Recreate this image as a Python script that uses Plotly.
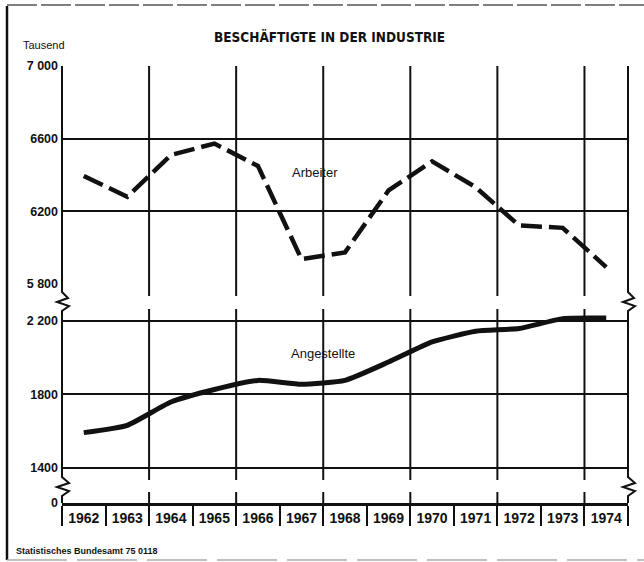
import plotly.graph_objects as go

# ---------------- data ----------------
YEARS = list(range(1962, 1975))
YEAR_LABELS = [str(y) for y in YEARS]
ARBEITER = [6395, 6280, 6510, 6573, 6450, 5937, 5974, 6315, 6475, 6333, 6122, 6109, 5893]
ANGESTELLTE = [1591, 1631, 1758, 1826, 1876, 1855, 1876, 1976, 2086, 2144, 2159, 2213, 2216]
TOP_TICKS = [5800, 6200, 6600, 7000]
TOP_TICK_TEXT = ["5 800", "6200", "6600", "7 000"]
BOTTOM_TICKS = [1400, 1800, 2200]
BOTTOM_TICK_TEXT = ["1400", "1800", "2 200"]
ZERO_TEXT = "0"
TITLE = "BESCHÄFTIGTE IN DER INDUSTRIE"
UNIT = "Tausend"
SOURCE = "Statistisches Bundesamt 75 0118"
LABEL_ARBEITER = "Arbeiter"
LABEL_ANGESTELLTE = "Angestellte"

# ---------------- layout geometry ----------------
W, H = 644, 562
L, R, T, B = 62, 628, 66, 503
PW, PH = R - L, B - T
BREAK_BASE = 1207      # where the broken-axis "0" line sits on the lower scale
LOWER_TOP = 2240       # a little headroom above 2200 so the line is not clipped
UNITS_PER_PX = 400 / 73.3

def px(x):
    return (x - L) / PW

def py(y):
    return (B - y) / PH

FONT = "Liberation Sans, Arial, sans-serif"
BLACK = "#111111"

x_lo = YEARS[0] - 0.5
x_hi = YEARS[-1] + 0.5
boundaries = [y - 0.5 for y in YEARS] + [x_hi]
grid_x = boundaries[::2]

fig = go.Figure()
fig.add_trace(go.Scatter(
    x=YEARS, y=ARBEITER, mode="lines", xaxis="x", yaxis="y",
    line=dict(color=BLACK, width=4.5, dash="21px,7px"),
    hoverinfo="x+y", showlegend=False,
))
fig.add_trace(go.Scatter(
    x=YEARS, y=ANGESTELLTE, mode="lines", xaxis="x", yaxis="y2",
    line=dict(color=BLACK, width=5, shape="spline", smoothing=0.5),
    hoverinfo="x+y", showlegend=False,
))

shapes = []
# vertical grid lines (every second year), broken in the axis gaps
for gx in grid_x[1:]:
    for y0, y1 in [(T, 296), (309, 480), (492, B)]:
        shapes.append(dict(type="line", xref="x", yref="paper", x0=gx, x1=gx,
                           y0=py(y0), y1=py(y1), line=dict(color=BLACK, width=2)))

def edge_path(x, sign):
    pts = [(x, T), (x, 292), (x + 6 * sign, 298), (x - 5 * sign, 302), (x + 7 * sign, 306),
           (x, 311), (x, 477), (x + 7 * sign, 483), (x - 5 * sign, 487), (x + 7 * sign, 491),
           (x, 496), (x, B)]
    return "M " + " L ".join(f"{px(a):.5f},{py(b):.5f}" for a, b in pts)

shapes.append(dict(type="path", xref="paper", yref="paper", path=edge_path(L, 1),
                   line=dict(color=BLACK, width=2)))
shapes.append(dict(type="path", xref="paper", yref="paper", path=edge_path(R, 1),
                   line=dict(color=BLACK, width=2)))
# outer frame of the printed figure
shapes.append(dict(type="line", xref="paper", yref="paper", x0=px(7), x1=px(7),
                   y0=py(6), y1=py(560), line=dict(color=BLACK, width=2.5)))
shapes.append(dict(type="line", xref="paper", yref="paper", x0=px(7), x1=px(644),
                   y0=py(5), y1=py(5), line=dict(color="#555555", width=1.5, dash="30px,4px")))
shapes.append(dict(type="line", xref="paper", yref="paper", x0=px(7), x1=px(644),
                   y0=py(560), y1=py(560), line=dict(color="#aaaaaa", width=1.5, dash="60px,10px")))

annotations = [
    dict(text=f"<b>{TITLE}</b>", xref="paper", yref="paper", x=px(329), y=py(37),
         showarrow=False, xanchor="center", yanchor="middle",
         font=dict(family="DejaVu Sans Condensed, sans-serif", size=13.5, color=BLACK)),
    dict(text=UNIT, xref="paper", yref="paper", x=px(21), y=py(45), showarrow=False,
         xanchor="left", yanchor="middle", font=dict(family=FONT, size=11, color=BLACK)),
    dict(text=f"<b>{SOURCE}</b>", xref="paper", yref="paper", x=px(14), y=py(551),
         showarrow=False, xanchor="left", yanchor="middle",
         font=dict(family=FONT, size=9, color=BLACK)),
    dict(text=LABEL_ARBEITER, xref="x", yref="y", x=1967.3, y=6415, showarrow=False,
         xanchor="center", yanchor="middle", font=dict(family=FONT, size=13, color=BLACK)),
    dict(text=LABEL_ANGESTELLTE, xref="x", yref="y2", x=1967.5, y=2020, showarrow=False,
         xanchor="center", yanchor="middle", font=dict(family=FONT, size=13, color=BLACK)),
]

tick_font = dict(family=FONT, size=12.5, color=BLACK)

fig.update_layout(
    width=W, height=H,
    margin=dict(l=L, r=W - R, t=T, b=H - B, pad=0, autoexpand=False),
    paper_bgcolor="white", plot_bgcolor="white",
    showlegend=False,
    xaxis=dict(
        range=[x_lo, x_hi], anchor="y2",
        tickmode="array", tickvals=YEARS, ticktext=[f"<b>{t}</b>" for t in YEAR_LABELS],
        ticks="", ticklabelstandoff=0,
        tickfont=dict(family=FONT, size=14, color=BLACK),
        showgrid=False, zeroline=False,
        showline=True, linecolor=BLACK, linewidth=2.5,
        minor=dict(tickmode="array", tickvals=boundaries, ticks="outside",
                   ticklen=20, tickwidth=2, tickcolor=BLACK, showgrid=False),
        fixedrange=True, automargin=False,
    ),
    yaxis=dict(
        domain=[py(284), 1], range=[5800, 7000], anchor="x",
        tickmode="array", tickvals=TOP_TICKS, ticktext=[f"<b>{t}</b>" for t in TOP_TICK_TEXT],
        ticks="", ticklabelstandoff=3, tickfont=tick_font,
        showgrid=True, gridcolor=BLACK, gridwidth=2,
        zeroline=False, showline=False, fixedrange=True, automargin=False,
    ),
    yaxis2=dict(
        domain=[0, py(321 - (LOWER_TOP - 2200) / UNITS_PER_PX)],
        range=[BREAK_BASE, LOWER_TOP], anchor="x",
        tickmode="array", tickvals=[BREAK_BASE] + BOTTOM_TICKS,
        ticktext=[f"<b>{t}</b>" for t in [ZERO_TEXT] + BOTTOM_TICK_TEXT],
        ticks="", ticklabelstandoff=3, tickfont=tick_font,
        showgrid=True, gridcolor=BLACK, gridwidth=2,
        zeroline=False, showline=False, fixedrange=True, automargin=False,
    ),
    shapes=shapes,
    annotations=annotations,
)

fig.write_html("out.html", config={"displayModeBar": False},
               post_script="document.body.style.margin='0px';")
